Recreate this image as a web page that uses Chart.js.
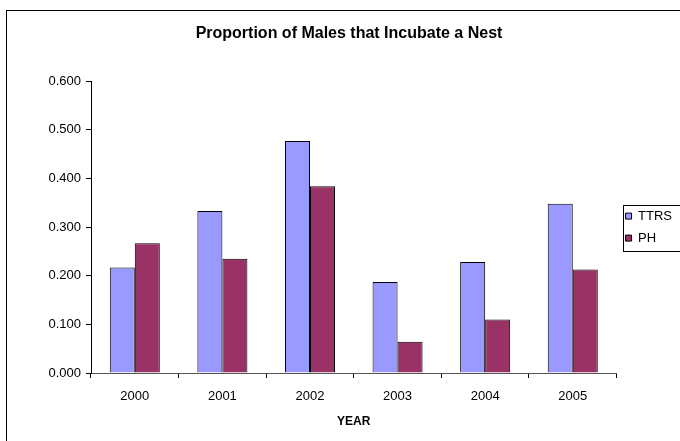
<!DOCTYPE html>
<html>
<head>
<meta charset="utf-8">
<script src="https://cdn.jsdelivr.net/npm/chart.js@4/dist/chart.umd.min.js"></script>
<style>
  html, body { margin: 0; padding: 0; background: #fff; }
  #wrap { width: 680px; height: 441px; }
</style>
</head>
<body>
<div id="wrap"><canvas id="chart" width="680" height="441"></canvas></div>
<script>
const years = ['2000', '2001', '2002', '2003', '2004', '2005'];
const ttrs = [0.217, 0.333, 0.477, 0.187, 0.228, 0.348];
const ph = [0.267, 0.235, 0.384, 0.064, 0.110, 0.213];
const seriesNames = ['TTRS', 'PH'];
const chartTitle = 'Proportion of Males that Incubate a Nest';
const xTitle = 'YEAR';

const fontFamily = "'Liberation Sans', Arial, sans-serif";

// white background, outer chart frame and the legend border
const framePlugin = {
    id: 'frame',
    beforeDraw(chart) {
        const ctx = chart.ctx;
        ctx.save();
        ctx.fillStyle = '#fff';
        ctx.fillRect(0, 0, chart.width, chart.height);
        ctx.strokeStyle = '#000';
        ctx.lineWidth = 1;
        ctx.strokeRect(6.5, 10.5, chart.width + 20, chart.height + 20);
        ctx.restore();
    },
    afterDraw(chart) {
        const lg = chart.legend;
        if (!lg || !lg.legendHitBoxes || !lg.legendHitBoxes.length) return;
        const boxes = lg.legendHitBoxes;
        const first = boxes[0];
        const last = boxes[boxes.length - 1];
        const ctx = chart.ctx;
        ctx.save();
        ctx.strokeStyle = '#000';
        ctx.lineWidth = 1;
        const x = Math.round(first.left - 3) + 0.5;
        const y = Math.round(first.top + first.height / 2 - 11) + 0.5;
        const y2 = Math.round(last.top + last.height / 2 + 13) + 0.5;
        ctx.strokeRect(x, y, chart.width, y2 - y);
        ctx.restore();
    }
};

new Chart(document.getElementById('chart'), {
    type: 'bar',
    data: {
        labels: years,
        datasets: [{
            label: seriesNames[0],
            data: ttrs,
            backgroundColor: '#9999FF',
            borderColor: '#000',
            borderWidth: 1,
            borderSkipped: 'bottom',
            categoryPercentage: 0.571,
            barPercentage: 1
        }, {
            label: seriesNames[1],
            data: ph,
            backgroundColor: '#993366',
            borderColor: '#000',
            borderWidth: 1,
            borderSkipped: 'bottom',
            categoryPercentage: 0.571,
            barPercentage: 1
        }]
    },
    options: {
        responsive: false,
        animation: false,
        devicePixelRatio: 1,
        layout: { padding: { left: 16, right: -2, top: 0, bottom: 8 } },
        plugins: {
            title: {
                display: true,
                text: chartTitle,
                color: '#000',
                font: { family: fontFamily, size: 16, weight: 'bold' },
                padding: { top: 24, bottom: 38 }
            },
            legend: {
                position: 'right',
                fullSize: false,
                labels: {
                    color: '#000',
                    font: { family: fontFamily, size: 13 },
                    boxWidth: 6,
                    boxHeight: 6,
                    padding: 9
                }
            },
            tooltip: { enabled: false }
        },
        scales: {
            x: {
                grid: {
                    display: true,
                    drawOnChartArea: false,
                    drawTicks: true,
                    tickLength: 5,
                    color: '#000',
                    offset: true
                },
                border: { color: '#555' },
                ticks: {
                    color: '#000',
                    font: { family: fontFamily, size: 13 },
                    padding: 11
                },
                title: {
                    display: true,
                    text: xTitle,
                    color: '#000',
                    font: { family: fontFamily, size: 12, weight: 'bold' },
                    padding: { top: -1, bottom: 4 }
                }
            },
            y: {
                min: 0,
                max: 0.6,
                afterFit(scale) { scale.width = 75; },
                grid: {
                    display: true,
                    drawOnChartArea: false,
                    drawTicks: true,
                    tickLength: 5,
                    color: '#000'
                },
                border: { color: '#000' },
                ticks: {
                    stepSize: 0.1,
                    color: '#000',
                    font: { family: fontFamily, size: 13 },
                    padding: 5,
                    callback: (v) => Number(v).toFixed(3)
                }
            }
        }
    },
    plugins: [framePlugin]
});
</script>
</body>
</html>
